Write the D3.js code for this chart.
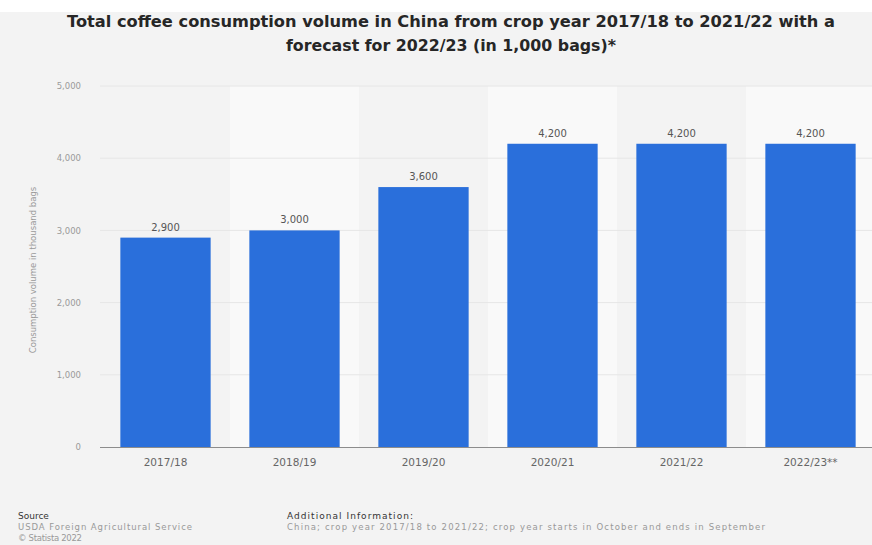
<!DOCTYPE html>
<html>
<head>
<meta charset="utf-8">
<script src="https://cdn.jsdelivr.net/npm/d3@7/dist/d3.min.js"></script>
<style>
  html, body { margin: 0; padding: 0; background: #ffffff; }
  svg { display: block; }
</style>
</head>
<body>
<svg id="chart" width="872" height="545"></svg>
<script>
// Crop years and consumption volumes (1,000 bags)
const cropYears = ["2017/18", "2018/19", "2019/20", "2020/21", "2021/22", "2022/23**"];
const consumption = [2900, 3000, 3600, 4200, 4200, 4200];
const yTicks = [0, 1000, 2000, 3000, 4000, 5000];

const titleLines = [
  "Total coffee consumption volume in China from crop year 2017/18 to 2021/22 with a",
  "forecast for 2022/23 (in 1,000 bags)*"
];
const yAxisTitle = "Consumption volume in thousand bags";
const sourceLines = ["USDA Foreign Agricultural Service", "© Statista 2022"];
const infoLines = ["China; crop year 2017/18 to 2021/22; crop year starts in October and ends in September"];

const W = 872, H = 545;
const svg = d3.select("#chart");
const font = "'DejaVu Sans', Verdana, sans-serif";

// page background
svg.append("rect").attr("x", 0).attr("y", 0).attr("width", W).attr("height", H).attr("fill", "#ffffff");
svg.append("rect").attr("x", 0).attr("y", 12).attr("width", W).attr("height", H - 12).attr("fill", "#f3f3f3");

// title, each line fitted to its measured width
const titleWidths = [768, 330];
svg.append("g").selectAll("text").data(titleLines).join("text")
  .attr("x", 451).attr("y", (d, i) => 27 + i * 24)
  .attr("text-anchor", "middle")
  .attr("font-family", font).attr("font-weight", "bold")
  .attr("font-size", 15.5).attr("fill", "#262626")
  .attr("textLength", (d, i) => titleWidths[i])
  .attr("lengthAdjust", "spacingAndGlyphs")
  .text(d => d);

// scales
const x = d3.scaleBand().domain(cropYears).range([101, 875]).paddingInner(0.3).paddingOuter(0.15);
const y = d3.scaleLinear().domain([0, 5000]).range([447, 86]);

// alternating light column bands
svg.append("g").selectAll("rect")
  .data(cropYears.filter((d, i) => i % 2 === 1))
  .join("rect")
  .attr("x", d => x(d) + x.bandwidth() / 2 - x.step() / 2)
  .attr("y", y(5000))
  .attr("width", x.step())
  .attr("height", y(0) - y(5000))
  .attr("fill", "#f9f9f9");

// gridlines
svg.append("g").selectAll("line").data(yTicks.filter(t => t > 0)).join("line")
  .attr("x1", 100).attr("x2", W)
  .attr("y1", d => y(d)).attr("y2", d => y(d))
  .attr("stroke", "#e6e6e6").attr("stroke-width", 1);

// y axis labels
const yAxis = d3.axisLeft(y).tickValues(yTicks).tickSize(0).tickPadding(0)
  .tickFormat(d3.format(","));
const gy = svg.append("g").attr("transform", "translate(81,0)").call(yAxis);
gy.select(".domain").remove();
gy.selectAll("text").attr("font-family", font).attr("font-size", 8.5).attr("fill", "#9a9a9a");

// y axis title
svg.append("text")
  .attr("transform", "translate(36," + 270 + ") rotate(-90)")
  .attr("text-anchor", "middle")
  .attr("font-family", font).attr("font-size", 8.5).attr("fill", "#9a9a9a")
  .text(yAxisTitle);

// bars
svg.append("g").selectAll("rect").data(cropYears).join("rect")
  .attr("x", d => x(d))
  .attr("y", (d, i) => y(consumption[i]))
  .attr("width", x.bandwidth())
  .attr("height", (d, i) => y(0) - y(consumption[i]))
  .attr("fill", "#2a6fdb");

// value labels
svg.append("g").selectAll("text").data(cropYears).join("text")
  .attr("x", d => x(d) + x.bandwidth() / 2)
  .attr("y", (d, i) => y(consumption[i]) - 7)
  .attr("text-anchor", "middle")
  .attr("font-family", font).attr("font-size", 10).attr("fill", "#555")
  .text((d, i) => d3.format(",")(consumption[i]));

// x axis baseline and labels
const xAxis = d3.axisBottom(x).tickSize(0).tickPadding(12);
const gx = svg.append("g").attr("transform", "translate(0," + y(0) + ")").call(xAxis);
gx.select(".domain").remove();
gx.selectAll("text").attr("font-family", font).attr("font-size", 10.5).attr("fill", "#666");
svg.append("line").attr("x1", 100).attr("x2", W).attr("y1", y(0) + 0.5).attr("y2", y(0) + 0.5)
  .attr("stroke", "#8c8c8c").attr("stroke-width", 1);

// footer
const foot = svg.append("g").attr("font-family", font);
foot.append("text").attr("x", 18).attr("y", 519).attr("font-size", 9).attr("fill", "#333").text("Source");
const sourceWidths = [174, 64];
foot.selectAll(".src").data(sourceLines).join("text").attr("class", "src")
  .attr("x", 18).attr("y", (d, i) => 530 + i * 11)
  .attr("font-size", 8.5).attr("fill", "#999")
  .attr("textLength", (d, i) => sourceWidths[i]).attr("lengthAdjust", "spacing")
  .text(d => d);
foot.append("text").attr("x", 287).attr("y", 519).attr("font-size", 9).attr("fill", "#333")
  .attr("textLength", 126).attr("lengthAdjust", "spacing").text("Additional Information:");
foot.selectAll(".inf").data(infoLines).join("text").attr("class", "inf")
  .attr("x", 287).attr("y", (d, i) => 530 + i * 11)
  .attr("font-size", 8.5).attr("fill", "#999")
  .attr("textLength", 478).attr("lengthAdjust", "spacing")
  .text(d => d);
</script>
</body>
</html>
